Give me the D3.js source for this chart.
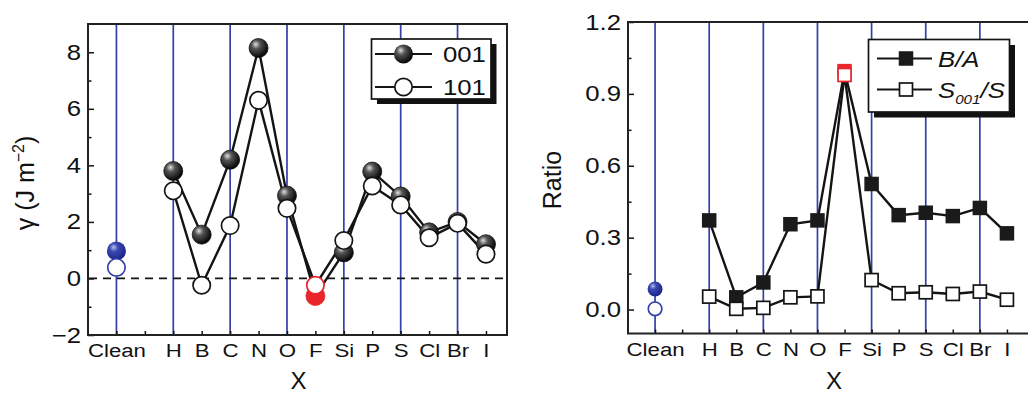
<!DOCTYPE html>
<html><head><meta charset="utf-8">
<script src="https://cdn.jsdelivr.net/npm/d3@7"></script>
<style>
html,body{margin:0;padding:0;background:#fff;}
svg text{font-family:"Liberation Sans",Arial,Helvetica,sans-serif;fill:#111;}
</style></head>
<body>
<svg id="chart" width="1028" height="395"></svg>
<script>
// ---------- data ----------
const xLabels = ["Clean","","H","B","C","N","O","F","Si","P","S","Cl","Br","I"];
const elements = ["H","B","C","N","O","F","Si","P","S","Cl","Br","I"];
const gamma001 = [3.8, 1.55, 4.2, 8.15, 2.93, -0.62, 0.92, 3.78, 2.9, 1.63, 2.0, 1.21];
const gamma101 = [3.1, -0.24, 1.87, 6.3, 2.48, -0.24, 1.34, 3.27, 2.6, 1.44, 1.95, 0.86];
const cleanGamma = [0.97, 0.39];          // [001, 101]
const ratioBA = [0.372, 0.051, 0.113, 0.356, 0.372, 0.995, 0.524, 0.394, 0.404, 0.39, 0.424, 0.318];
const ratioS  = [0.054, 0.003, 0.007, 0.051, 0.055, 0.979, 0.123, 0.068, 0.072, 0.065, 0.075, 0.041];
const cleanRatio = [0.086, 0.003];        // [B/A, S001/S]
const gammaTicks = [-2, 0, 2, 4, 6, 8];
const gammaMinor = [-1, 1, 3, 5, 7];
const ratioTicks = [0.0, 0.3, 0.6, 0.9, 1.2];
const ratioMinor = [0.15, 0.45, 0.75, 1.05];
const highlight = "F";
const legendLeft = ["001", "101"];

// ---------- setup ----------
const svg = d3.select("#chart");
const SX = 1.17;                 // horizontal stretch of text in original figure
const BLUE = "#3340a8", RED = "#e8262b", INK = "#141414";
const idx = e => xLabels.indexOf(e);

const defs = svg.append("defs");
function sphere(id, c0, c1, c2) {
  const g = defs.append("radialGradient").attr("id", id)
    .attr("cx", "38%").attr("cy", "35%").attr("r", "65%").attr("fx", "35%").attr("fy", "30%");
  g.append("stop").attr("offset", "0%").attr("stop-color", c0);
  g.append("stop").attr("offset", "35%").attr("stop-color", c1);
  g.append("stop").attr("offset", "100%").attr("stop-color", c2);
}
sphere("gBlack", "#e0e0e0", "#555", "#050505");
sphere("gBlue", "#b8bff0", "#3a48b0", "#1c2688");

function stretchText(sel) { sel.attr("transform", `scale(${SX},1)`); }

function panel(o) {
  const g = svg.append("g");
  const x = d3.scaleLinear().domain(o.xDom).range([o.x0, o.x1]);
  const y = d3.scaleLinear().domain(o.yDom).range([o.y1, o.y0]);
  // blue vertical guide lines
  g.selectAll("line.blue").data(xLabels.map((d, i) => i).filter(i => i % 2 === 0 && i <= 12))
    .join("line").attr("class", "blue")
    .attr("x1", d => x(d)).attr("x2", d => x(d)).attr("y1", o.y0).attr("y2", o.y1)
    .attr("stroke", BLUE).attr("stroke-width", 1.7);
  // x axis
  const xa = g.append("g").attr("transform", `translate(0,${o.y1})`)
    .call(d3.axisBottom(x).tickValues(d3.range(xLabels.length)).tickFormat(i => xLabels[i])
      .tickSize(-4).tickPadding(9));
  xa.select(".domain").remove();
  xa.selectAll("line").attr("stroke", INK).attr("stroke-width", 1.5);
  xa.selectAll("text").style("font-size", "19px").attr("fill", INK).call(stretchText);
  // y axis
  const ya = g.append("g").attr("transform", `translate(${o.x0},0)`)
    .call(d3.axisLeft(y).tickValues(o.ticks).tickFormat(o.fmt).tickSize(-6).tickPadding(6));
  ya.select(".domain").remove();
  ya.selectAll("line").attr("stroke", INK).attr("stroke-width", 1.5);
  ya.selectAll("text").style("font-size", "22px").attr("fill", INK).call(stretchText);
  const ym = g.append("g").attr("transform", `translate(${o.x0},0)`)
    .call(d3.axisLeft(y).tickValues(o.minor).tickFormat("").tickSize(-3.5));
  ym.select(".domain").remove();
  ym.selectAll("line").attr("stroke", INK).attr("stroke-width", 1.5);
  // frame
  g.append("rect").attr("x", o.x0).attr("y", o.y0).attr("width", o.frameR - o.x0).attr("height", o.y1 - o.y0)
    .attr("fill", "none").attr("stroke", "#222").attr("stroke-width", 2);
  // axis titles
  g.append("text").attr("x", (o.x0 + o.frameR) / 2 + o.xtDx).attr("y", 389)
    .attr("text-anchor", "middle").style("font-size", "24px").text("X");
  return { g, x, y };
}

// ---------- left panel ----------
const L = panel({ xDom: [-1, 13.74], x0: 88, x1: 507, frameR: 507, yDom: [-2, 9], y0: 24, y1: 335,
  ticks: gammaTicks, minor: gammaMinor, fmt: d => d < 0 ? "\u2212" + Math.abs(d) : d, xtDx: 1 });
// y title
const gt = L.g.append("text").attr("transform", "translate(34,183) rotate(-90)")
  .attr("text-anchor", "middle").style("font-size", "25px");
gt.append("tspan").text("\u03b3 (J m");
gt.append("tspan").attr("dy", -10).style("font-size", "16px").text("\u22122");
gt.append("tspan").attr("dy", 10).text(")");
// dashed zero line
L.g.append("line").attr("x1", 89).attr("x2", 506).attr("y1", L.y(0)).attr("y2", L.y(0))
  .attr("stroke", INK).attr("stroke-width", 1.7).attr("stroke-dasharray", "8,6");
const lineL = d3.line().x((d, i) => L.x(idx(elements[i]))).y(d => L.y(d));
[gamma001, gamma101].forEach(s => L.g.append("path").attr("d", lineL(s))
  .attr("fill", "none").attr("stroke", INK).attr("stroke-width", 2.4));
const R1 = 9.5;
// 001 filled spheres
L.g.selectAll("circle.s001").data(gamma001).join("circle").attr("class", "s001")
  .attr("cx", (d, i) => L.x(idx(elements[i]))).attr("cy", d => L.y(d)).attr("r", R1)
  .attr("fill", (d, i) => elements[i] === highlight ? RED : "url(#gBlack)")
  .attr("stroke", (d, i) => elements[i] === highlight ? RED : "#111").attr("stroke-width", 0.8);
// 101 open circles
L.g.selectAll("circle.s101").data(gamma101).join("circle").attr("class", "s101")
  .attr("cx", (d, i) => L.x(idx(elements[i]))).attr("cy", d => L.y(d)).attr("r", R1 - 0.8)
  .attr("fill", "#fff").attr("stroke", (d, i) => elements[i] === highlight ? RED : INK).attr("stroke-width", 1.7);
// clean
L.g.append("circle").attr("cx", L.x(0)).attr("cy", L.y(cleanGamma[0])).attr("r", R1).attr("fill", "url(#gBlue)");
L.g.append("circle").attr("cx", L.x(0)).attr("cy", L.y(cleanGamma[1])).attr("r", R1 - 0.8)
  .attr("fill", "#fff").attr("stroke", BLUE).attr("stroke-width", 1.7);
// legend
{
  const lg = L.g.append("g");
  lg.append("rect").attr("x", 377).attr("y", 44).attr("width", 119.5).attr("height", 60).attr("fill", "#111");
  lg.append("rect").attr("x", 371.5).attr("y", 39).attr("width", 119.5).attr("height", 60)
    .attr("fill", "#fff").attr("stroke", INK).attr("stroke-width", 1.7);
  const rows = [54, 87];
  rows.forEach((ry, k) => {
    lg.append("line").attr("x1", 375).attr("x2", 432).attr("y1", ry).attr("y2", ry)
      .attr("stroke", INK).attr("stroke-width", 2.2);
    if (k === 0) lg.append("circle").attr("cx", 403.5).attr("cy", ry).attr("r", R1).attr("fill", "url(#gBlack)");
    else lg.append("circle").attr("cx", 403.5).attr("cy", ry).attr("r", R1 - 0.8).attr("fill", "#fff")
      .attr("stroke", INK).attr("stroke-width", 1.7);
    lg.append("g").attr("transform", `translate(443,${ry + 8})`).append("text")
      .attr("transform", `scale(${SX},1)`).style("font-size", "22px").text(legendLeft[k]);
  });
}

// ---------- right panel ----------
const R = panel({ xDom: [-1, 14], x0: 628, x1: 1034, frameR: 1034, yDom: [-0.1, 1.2], y0: 22, y1: 333.5,
  ticks: ratioTicks, minor: ratioMinor, fmt: d3.format(".1f"), xtDx: 3 });
R.g.append("text").attr("transform", "translate(561,180) rotate(-90)")
  .attr("text-anchor", "middle").style("font-size", "25px").text("Ratio");
const lineR = d3.line().x((d, i) => R.x(idx(elements[i]))).y(d => R.y(d));
[ratioBA, ratioS].forEach(s => R.g.append("path").attr("d", lineR(s))
  .attr("fill", "none").attr("stroke", INK).attr("stroke-width", 2.4));
const SQ = 14.5;
R.g.selectAll("rect.ba").data(ratioBA).join("rect").attr("class", "ba")
  .attr("x", (d, i) => R.x(idx(elements[i])) - SQ / 2).attr("y", d => R.y(d) - SQ / 2)
  .attr("width", SQ).attr("height", SQ)
  .attr("fill", (d, i) => elements[i] === highlight ? RED : "#1a1a1a");
R.g.selectAll("rect.sr").data(ratioS).join("rect").attr("class", "sr")
  .attr("x", (d, i) => R.x(idx(elements[i])) - (SQ - 1.5) / 2).attr("y", d => R.y(d) - (SQ - 1.5) / 2)
  .attr("width", SQ - 1.5).attr("height", SQ - 1.5).attr("fill", "#fff")
  .attr("stroke", (d, i) => elements[i] === highlight ? RED : INK).attr("stroke-width", 1.7);
R.g.append("circle").attr("cx", R.x(0)).attr("cy", R.y(cleanRatio[0])).attr("r", 7.5).attr("fill", "url(#gBlue)");
R.g.append("circle").attr("cx", R.x(0)).attr("cy", R.y(cleanRatio[1])).attr("r", 6.8)
  .attr("fill", "#fff").attr("stroke", BLUE).attr("stroke-width", 1.7);
// legend
{
  const lg = R.g.append("g");
  lg.append("rect").attr("x", 874).attr("y", 45).attr("width", 141).attr("height", 72.5).attr("fill", "#111");
  lg.append("rect").attr("x", 868.5).attr("y", 39.5).attr("width", 141).attr("height", 72.5)
    .attr("fill", "#fff").attr("stroke", INK).attr("stroke-width", 1.7);
  const rows = [58.5, 89.5];
  rows.forEach((ry, k) => {
    lg.append("line").attr("x1", 877).attr("x2", 932).attr("y1", ry).attr("y2", ry)
      .attr("stroke", INK).attr("stroke-width", 2.2);
    if (k === 0) lg.append("rect").attr("x", 906 - SQ / 2).attr("y", ry - SQ / 2).attr("width", SQ).attr("height", SQ)
      .attr("fill", "#1a1a1a");
    else lg.append("rect").attr("x", 906 - (SQ - 1.5) / 2).attr("y", ry - (SQ - 1.5) / 2)
      .attr("width", SQ - 1.5).attr("height", SQ - 1.5).attr("fill", "#fff").attr("stroke", INK).attr("stroke-width", 1.7);
    const t = lg.append("g").attr("transform", `translate(938,${ry + 8})`).append("text")
      .attr("transform", `scale(${SX},1)`).style("font-size", "22px").style("font-style", "italic");
    if (k === 0) t.text("B/A");
    else {
      t.append("tspan").text("S");
      t.append("tspan").attr("dy", 6).style("font-size", "13px").text("001");
      t.append("tspan").attr("dy", -6).text("/S");
    }
  });
}
</script>
</body></html>
